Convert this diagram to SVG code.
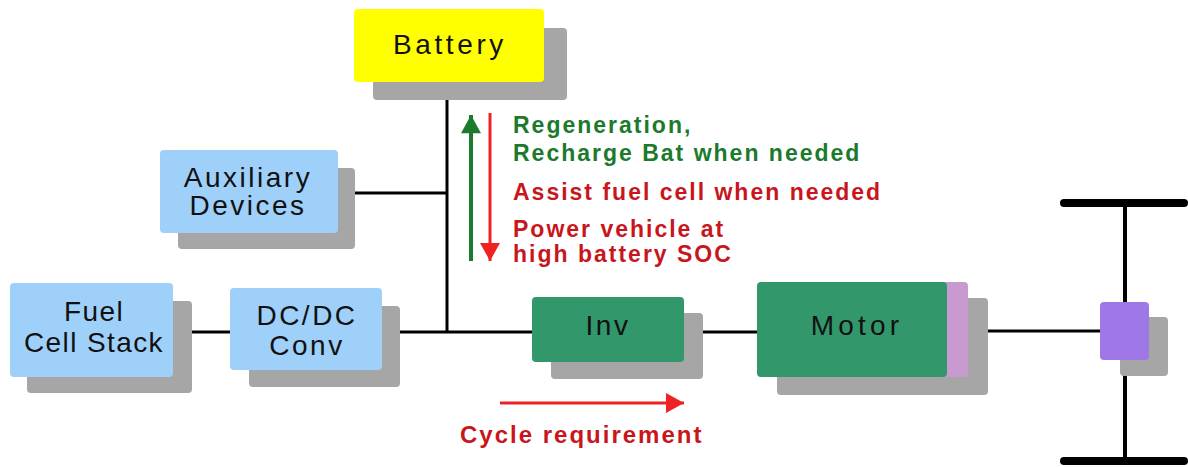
<svg xmlns="http://www.w3.org/2000/svg" width="1188" height="467" viewBox="0 0 1188 467">
<defs>
<style>
.sh{fill:#a6a6a6}
.blue{fill:#9fd0fa}
.grn{fill:#32986b}
.lbl{font-family:"Liberation Sans",Arial,sans-serif;font-size:28px;fill:#111;text-anchor:middle;letter-spacing:2.5px}
.bus{stroke:#000;stroke-width:3;fill:none}
.axl{stroke:#000;stroke-width:8;stroke-linecap:round}
.gt{font-family:"Liberation Sans",Arial,sans-serif;font-weight:bold;font-size:23px;fill:#1b7a2c;letter-spacing:2px}
.rt{font-family:"Liberation Sans",Arial,sans-serif;font-weight:bold;font-size:23px;fill:#c8161d;letter-spacing:2px}
</style>
<marker id="hg" markerUnits="userSpaceOnUse" markerWidth="24" markerHeight="20" refX="20" refY="11" orient="auto" viewBox="0 0 20 22"><path d="M0,0 L20,11 L0,22 Z" fill="#1b7a2c"/></marker>
<marker id="hr" markerUnits="userSpaceOnUse" markerWidth="20" markerHeight="20" refX="18" refY="10" orient="auto" viewBox="0 0 18 20"><path d="M0,0 L18,10 L0,20 Z" fill="#ee2222"/></marker>
</defs>
<rect width="1188" height="467" fill="#fff"/>
<g id="connectors">
<line class="bus" x1="447" y1="82" x2="447" y2="333"/>
<line class="bus" x1="338" y1="193" x2="447" y2="193"/>
<line class="bus" x1="172" y1="332" x2="230" y2="332"/>
<line class="bus" x1="382" y1="332" x2="532" y2="332"/>
<line class="bus" x1="684" y1="332" x2="757" y2="332"/>
<line class="bus" x1="968" y1="331" x2="1100" y2="331"/>
</g>
<g id="axle">
<line class="axl" x1="1064" y1="203" x2="1184" y2="203"/>
<line class="axl" x1="1064" y1="461" x2="1184" y2="461"/>
<line class="bus" x1="1125" y1="203" x2="1125" y2="461" style="stroke-width:4"/>
<rect class="sh" x="1120" y="317" width="48" height="59" rx="4"/>
<rect x="1100" y="302" width="49" height="58" rx="4" fill="#9f77e6"/>
</g>
<g id="battery">
<rect class="sh" x="373" y="28" width="194" height="72" rx="4"/>
<rect x="354" y="9" width="190" height="73" rx="4" fill="#ffff00"/>
<text class="lbl" x="450" y="54" style="letter-spacing:3.6px">Battery</text>
</g>
<g id="auxiliary">
<rect class="sh" x="178" y="168" width="177" height="81" rx="4"/>
<rect class="blue" x="160" y="150" width="178" height="83" rx="4"/>
<text class="lbl" x="248" y="187">Auxiliary</text>
<text class="lbl" x="248" y="215">Devices</text>
</g>
<g id="fuelcell">
<rect class="sh" x="27" y="301" width="165" height="92" rx="4"/>
<rect class="blue" x="10" y="283" width="163" height="94" rx="4"/>
<text class="lbl" x="94" y="321" style="letter-spacing:1.4px">Fuel</text>
<text class="lbl" x="94" y="352" style="letter-spacing:1.4px">Cell Stack</text>
</g>
<g id="dcdc">
<rect class="sh" x="249" y="306" width="151" height="81" rx="4"/>
<rect class="blue" x="230" y="288" width="152" height="82" rx="4"/>
<text class="lbl" x="307" y="325">DC/DC</text>
<text class="lbl" x="307" y="355">Conv</text>
</g>
<g id="inv">
<rect class="sh" x="551" y="313" width="152" height="66" rx="4"/>
<rect class="grn" x="532" y="297" width="152" height="65" rx="4"/>
<text class="lbl" x="608" y="335">Inv</text>
</g>
<g id="motor">
<rect class="sh" x="777" y="298" width="211" height="97" rx="4"/>
<rect x="930" y="282" width="38" height="95" rx="4" fill="#c99ad0"/>
<rect class="grn" x="757" y="282" width="190" height="95" rx="4"/>
<text class="lbl" x="857" y="335" style="letter-spacing:4.2px">Motor</text>
</g>
<g id="flows">
<line x1="471" y1="261" x2="471" y2="115" stroke="#1b7a2c" stroke-width="4" marker-end="url(#hg)"/>
<line x1="490" y1="113" x2="490" y2="261" stroke="#ee2222" stroke-width="3" marker-end="url(#hr)"/>
<line x1="500" y1="403" x2="684" y2="403" stroke="#ee2222" stroke-width="3" marker-end="url(#hr)"/>
</g>
<g id="annotations">
<text class="gt" x="513" y="133">Regeneration,</text>
<text class="gt" x="513" y="161">Recharge Bat when needed</text>
<text class="rt" x="513" y="200">Assist fuel cell when needed</text>
<text class="rt" x="513" y="237">Power vehicle at</text>
<text class="rt" x="513" y="262">high battery SOC</text>
<text class="rt" x="460" y="443" style="font-size:24px">Cycle requirement</text>
</g>
</svg>
